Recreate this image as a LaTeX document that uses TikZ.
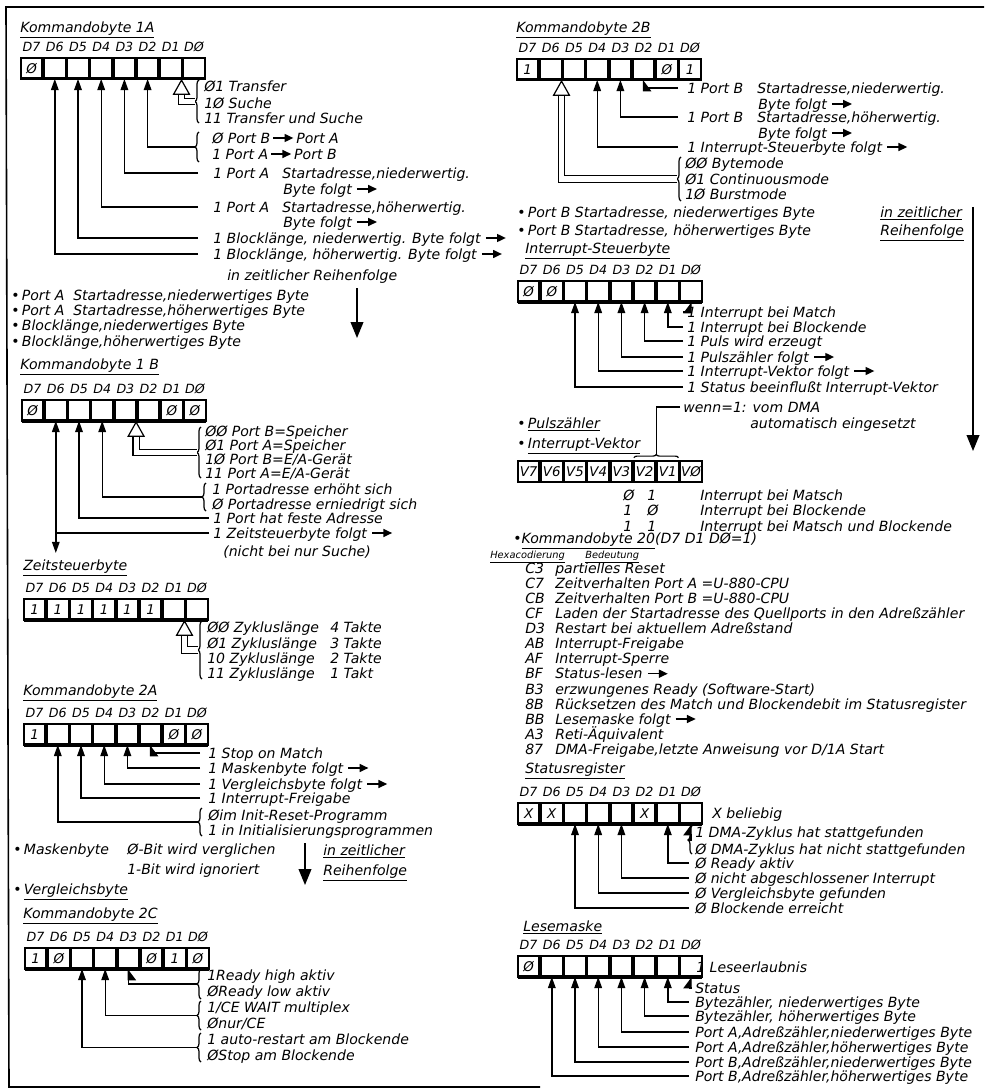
\documentclass[tikz,border=0pt]{standalone}
\usepackage{fontspec}
\setmainfont{DejaVu Sans}
\usetikzlibrary{matrix,arrows.meta,decorations.pathreplacing}

\newcommand{\folgt}{\tikz[baseline=-1.3mm]\draw[line width=0.35mm,-{Triangle[length=2.2mm,width=2mm]}] (0,0) -- (5mm,0);}

\tikzset{
    txt/.style={anchor=west, inner sep=0pt, text height=2.6mm, text depth=0pt},
    klein/.style={txt, font=\fontsize{7}{8}\selectfont\itshape},
    reg/.style={matrix of nodes, nodes in empty cells, anchor=north west,
        inner sep=0pt, outer sep=0pt, column sep=0pt, row sep=0pt,
        nodes={anchor=center, inner sep=0pt, outer sep=0pt,
            minimum width=5.35mm, minimum height=5.25mm,
            font=\fontsize{9.5}{10}\selectfont\itshape},
        row 1/.style={nodes={font=\fontsize{9}{10}\selectfont\itshape}},
        row 2/.style={nodes={draw, line width=0.45mm}}},
    vreg/.style={reg, row 1/.style={nodes={draw, line width=0.45mm}}},
    boden/.style={line width=0.8mm},
    zeig/.style={line width=0.35mm, -{Stealth[inset=0pt, length=2.8mm, width=1.9mm]}},
    halb/.style={line width=0.35mm, -{Stealth[inset=0pt, length=2.6mm, width=3.8mm, harpoon, swap]}},
    halbl/.style={line width=0.35mm, -{Stealth[inset=0pt, length=2.6mm, width=3.8mm, harpoon]}},
    hohl/.style={double, double distance=1.3mm, line width=0.3mm,
        -{Triangle[open, length=4mm, width=4.4mm, line width=0.3mm]}},
    klammer/.style={decorate, decoration={brace, amplitude=1mm}, line width=0.3mm},
    lang/.style={line width=0.35mm, -{Triangle[length=4mm, width=3.2mm]}},
    linie/.style={line width=0.35mm}
}

\begin{document}
\begin{tikzpicture}[x=0.25mm, y=-0.25mm, font=\fontsize{10}{12}\selectfont\itshape]
\useasboundingbox (0,0) rectangle (984,1091);
\draw[line width=0.4mm] (984,7) -- (6,7) -- (9,1087) -- (540,1087);

% Kommandobyte 1A
\node[txt] (t1a) at (20,27) {\underline{Kommandobyte 1A}};
\matrix (k1a) [reg] at (20,36) {
    D7 & D6 & D5 & D4 & D3 & D2 & D1 & DØ \\
    Ø  &    &    &    &    &    &    &    \\
};
\draw[boden] (k1a-2-1.south west) -- (k1a-2-8.south east);
\draw[klammer] (199,123) -- node[coordinate, left=1mm] (s1a) {} (199,80);
\node[txt] (a1) at (204,86) {Ø1 Transfer};
\node[txt] (a2) at (204,103) {1Ø Suche};
\node[txt] (a3) at (204,118) {11 Transfer und Suche};
\draw[hohl] (s1a) -| (k1a-2-7.south east);
\draw[klammer] (199,162) -- node[coordinate, left=1mm] (r1a) {} (199,132);
\node[txt] (a4) at (212,138) {Ø Port B\,\folgt\,Port A};
\node[txt] (a5) at (212,154) {1 Port A\,\folgt\,Port B};
\draw[zeig] (r1a) -| (k1a-2-6.south);
\node[txt] (a6) at (213,173) {1 Port A};
\node[txt] (a7) at (282,173) {Startadresse,niederwertig.};
\node[txt] (a8) at (283,189) {Byte folgt \folgt};
\draw[zeig] (a6.west) ++(-15,0) -| (k1a-2-5.south);
\node[txt] (a9) at (213,207) {1 Port A};
\node[txt] (a10) at (282,207) {Startadresse,höherwertig.};
\node[txt] (a11) at (283,222) {Byte folgt \folgt};
\draw[zeig] (a9.west) ++(-15,0) -| (k1a-2-4.south);
\node[txt] (a12) at (213,238) {1 Blocklänge, niederwertig. Byte folgt \folgt};
\draw[zeig] (a12.west) ++(-15,0) -| (k1a-2-3.south);
\node[txt] (a13) at (213,254) {1 Blocklänge, höherwertig. Byte folgt \folgt};
\draw[zeig] (a13.west) ++(-15,0) -| (k1a-2-2.south);
\node[txt] (a14) at (227,275) {in zeitlicher Reihenfolge};
\node[txt] (a15) at (11,295) {•\,Port A~ Startadresse,niederwertiges Byte};
\node[txt] (a16) at (11,310) {•\,Port A~ Startadresse,höherwertiges Byte};
\node[txt] (a17) at (11,325) {•\,Blocklänge,niederwertiges Byte};
\node[txt] (a18) at (11,341) {•\,Blocklänge,höherwertiges Byte};
\coordinate (p1o) at (357,288);
\coordinate (p1u) at (357,338);
\draw[lang] (p1o) -- (p1u);

% Kommandobyte 1B
\node[txt] (t1b) at (20,364) {\underline{Kommandobyte 1 B}};
\matrix (k1b) [reg] at (21,378) {
    D7 & D6 & D5 & D4 & D3 & D2 & D1 & DØ \\
    Ø  &    &    &    &    &    & Ø  & Ø  \\
};
\draw[boden] (k1b-2-1.south west) -- (k1b-2-8.south east);
\draw[klammer] (201,478) -- node[coordinate, left=1mm] (s1b) {} (201,427);
\node[txt] (b1) at (205,431) {ØØ Port B=Speicher};
\node[txt] (b2) at (205,445) {Ø1 Port A=Speicher};
\node[txt] (b3) at (205,459) {1Ø Port B=E/A-Gerät};
\node[txt] (b4) at (205,473) {11 Port A=E/A-Gerät};
\draw[hohl] (s1b) -| (k1b-2-5.south east);
\draw[klammer] (206,511) -- node[coordinate, left=1mm] (r1b) {} (206,483);
\node[txt] (b5) at (212,489) {1 Portadresse erhöht sich};
\node[txt] (b6) at (212,504) {Ø Portadresse erniedrigt sich};
\draw[zeig] (r1b) -| (k1b-2-4.south);
\node[txt] (b7) at (213,518) {1 Port hat feste Adresse};
\draw[zeig] (b7.west) ++(-4,0) -| (k1b-2-3.south);
\node[txt] (b8) at (213,533) {1 Zeitsteuerbyte folgt \folgt};
\draw[zeig] (b8.west) ++(-4,0) -| (k1b-2-2.south);
\draw[zeig] (k1b-2-2.south |- b8.west) -- ++(0,20);
\node[txt] (b9) at (223,551) {(nicht bei nur Suche)};

% Zeitsteuerbyte
\node[txt] (tz) at (23,565) {\underline{Zeitsteuerbyte}};
\matrix (kz) [reg] at (23,577) {
    D7 & D6 & D5 & D4 & D3 & D2 & D1 & DØ \\
    1  & 1  & 1  & 1  & 1  & 1  &    &    \\
};
\draw[boden] (kz-2-1.south west) -- (kz-2-8.south east);
\draw[klammer] (202,679) -- node[coordinate, left=1mm] (sz) {} (202,621);
\node[txt] (z1) at (207,627) {ØØ Zykluslänge};
\node[txt] (z2) at (330,627) {4 Takte};
\node[txt] (z3) at (207,643) {Ø1 Zykluslänge};
\node[txt] (z4) at (330,643) {3 Takte};
\node[txt] (z5) at (207,658) {10 Zykluslänge};
\node[txt] (z6) at (330,658) {2 Takte};
\node[txt] (z7) at (207,673) {11 Zykluslänge};
\node[txt] (z8) at (330,673) {1 Takt};
\draw[hohl] (sz) -| (kz-2-7.south east);

% Kommandobyte 2A
\node[txt] (t2a) at (23,690) {\underline{Kommandobyte 2A}};
\matrix (k2a) [reg] at (23,702) {
    D7 & D6 & D5 & D4 & D3 & D2 & D1 & DØ \\
    1  &    &    &    &    &    & Ø  & Ø  \\
};
\draw[boden] (k2a-2-1.south west) -- (k2a-2-8.south east);
\node[txt] (c1) at (208,753) {1 Stop on Match};
\draw[halb] (c1.west) ++(-8,0) -| (k2a-2-6.south);
\node[txt] (c2) at (208,768) {1 Maskenbyte folgt \folgt};
\draw[zeig] (c2.west) ++(-8,0) -| (k2a-2-5.south);
\node[txt] (c3) at (208,784) {1 Vergleichsbyte folgt \folgt};
\draw[zeig] (c3.west) ++(-8,0) -| (k2a-2-4.south);
\node[txt] (c4) at (208,798) {1 Interrupt-Freigabe};
\draw[zeig] (c4.west) ++(-8,0) -| (k2a-2-3.south);
\draw[klammer] (202,836) -- node[coordinate, left=1mm] (s2a) {} (202,808);
\node[txt] (c5) at (208,815) {Øim Init-Reset-Programm};
\node[txt] (c6) at (208,830) {1 in Initialisierungsprogrammen};
\draw[zeig] (s2a) -| (k2a-2-2.south);
\node[txt] (c7) at (13,849) {•\,Maskenbyte};
\node[txt] (c8) at (127,849) {Ø-Bit wird verglichen};
\node[txt] (c9) at (127,869) {1-Bit wird ignoriert};
\coordinate (p2o) at (305,843);
\coordinate (p2u) at (305,885);
\draw[lang] (p2o) -- (p2u);
\node[txt] (c10) at (323,850) {\underline{in zeitlicher}};
\node[txt] (c11) at (323,870) {\underline{Reihenfolge}};
\node[txt] (c12) at (13,889) {•\,\underline{Vergleichsbyte}};

% Kommandobyte 2C
\node[txt] (t2c) at (23,913) {\underline{Kommandobyte 2C}};
\matrix (k2c) [reg] at (24,926) {
    D7 & D6 & D5 & D4 & D3 & D2 & D1 & DØ \\
    1  & Ø  &    &    &    & Ø  & 1  & Ø  \\
};
\draw[boden] (k2c-2-1.south west) -- (k2c-2-8.south east);
\draw[klammer] (201,999) -- node[coordinate, left=1mm] (s2c1) {} (201,969);
\node[txt] (d1) at (207,975) {1Ready high aktiv};
\node[txt] (d2) at (207,991) {ØReady low aktiv};
\draw[halb] (s2c1) -| (k2c-2-5.south);
\draw[klammer] (201,1030) -- node[coordinate, left=1mm] (s2c2) {} (201,1001);
\node[txt] (d3) at (207,1007) {1/CE WAIT multiplex};
\node[txt] (d4) at (207,1023) {Ønur/CE};
\draw[zeig] (s2c2) -| (k2c-2-4.south);
\draw[klammer] (201,1062) -- node[coordinate, left=1mm] (s2c3) {} (201,1033);
\node[txt] (d5) at (207,1039) {1 auto-restart am Blockende};
\node[txt] (d6) at (207,1055) {ØStop am Blockende};
\draw[zeig] (s2c3) -| (k2c-2-3.south);

% Kommandobyte 2B
\node[txt] (t2b) at (516,27) {\underline{Kommandobyte 2B}};
\matrix (k2b) [reg] at (516,37) {
    D7 & D6 & D5 & D4 & D3 & D2 & D1 & DØ \\
    1  &    &    &    &    &    & Ø  & 1  \\
};
\draw[boden] (k2b-2-1.south west) -- (k2b-2-8.south east);
\node[txt] (e1) at (687,88) {1 Port B};
\node[txt] (e2) at (757,88) {Startadresse,niederwertig.};
\node[txt] (e3) at (758,104) {Byte folgt \folgt};
\draw[halb] (e1.west) ++(-9,0) -| (k2b-2-6.south);
\node[txt] (e4) at (687,117) {1 Port B};
\node[txt] (e5) at (757,117) {Startadresse,höherwertig.};
\node[txt] (e6) at (758,133) {Byte folgt \folgt};
\draw[zeig] (e4.west) ++(-9,0) -| (k2b-2-5.south);
\node[txt] (e7) at (687,147) {1 Interrupt-Steuerbyte folgt \folgt};
\draw[zeig] (e7.west) ++(-9,0) -| (k2b-2-4.south);
\draw[klammer] (681,201) -- node[coordinate, left=1mm] (s2b) {} (681,157);
\node[txt] (e8) at (685,163) {ØØ Bytemode};
\node[txt] (e9) at (685,179) {Ø1 Continuousmode};
\node[txt] (e10) at (685,194) {1Ø Burstmode};
\draw[hohl] (s2b) -| (k2b-2-2.south east);
\node[txt] (e11) at (517,212) {•\,Port B Startadresse, niederwertiges Byte};
\node[txt] (e12) at (517,230) {•\,Port B Startadresse, höherwertiges Byte};
\node[txt] (e13) at (880,212) {\underline{in zeitlicher}};
\node[txt] (e14) at (880,230) {\underline{Reihenfolge}};
\coordinate (p3o) at (973,207);
\coordinate (p3u) at (973,451);
\draw[lang] (p3o) -- (p3u);

% Interrupt-Steuerbyte
\node[txt] (ti) at (525,248) {\underline{Interrupt-Steuerbyte}};
\matrix (ki) [reg] at (517,259) {
    D7 & D6 & D5 & D4 & D3 & D2 & D1 & DØ \\
    Ø  & Ø  &    &    &    &    &    &    \\
};
\draw[boden] (ki-2-1.south west) -- (ki-2-8.south east);
\node[txt] (f1) at (687,312) {1 Interrupt bei Match};
\draw[halbl] (f1.west) ++(-4,0) -| (ki-2-8.south);
\node[txt] (f2) at (687,327) {1 Interrupt bei Blockende};
\draw[zeig] (f2.west) ++(-4,0) -| (ki-2-7.south);
\node[txt] (f3) at (687,341) {1 Puls wird erzeugt};
\draw[zeig] (f3.west) ++(-4,0) -| (ki-2-6.south);
\node[txt] (f4) at (687,357) {1 Pulszähler folgt \folgt};
\draw[zeig] (f4.west) ++(-4,0) -| (ki-2-5.south);
\node[txt] (f5) at (687,371) {1 Interrupt-Vektor folgt \folgt};
\draw[zeig] (f5.west) ++(-4,0) -| (ki-2-4.south);
\node[txt] (f6) at (687,387) {1 Status beeinflußt Interrupt-Vektor};
\draw[zeig] (f6.west) ++(-4,0) -| (ki-2-3.south);

% Interrupt-Vektor
\node[txt] (f7) at (517,423) {•\,\underline{Pulszähler}};
\node[txt] (f8) at (517,443) {•\,\underline{Interrupt-Vektor}};
\matrix (kv) [vreg] at (517,460) {
    V7 & V6 & V5 & V4 & V3 & V2 & V1 & VØ \\
};
\draw[klammer, decoration={amplitude=0.8mm}] ([yshift=0.8mm]kv-1-6.north west)
    -- node[coordinate, above=0.8mm] (sv) {} ([yshift=0.8mm]kv-1-7.north east);
\node[txt] (f9) at (683,407) {wenn=1: vom DMA};
\node[txt] (f10) at (750,423) {automatisch eingesetzt};
\draw[linie] (f9.west) ++(-3,0) -| (sv);
\node[txt] (g1) at (623,495) {Ø};
\node[txt] (g2) at (647,495) {1};
\node[txt] (g3) at (700,495) {Interrupt bei Matsch};
\node[txt] (g4) at (623,510) {1};
\node[txt] (g5) at (647,510) {Ø};
\node[txt] (g6) at (700,510) {Interrupt bei Blockende};
\node[txt] (g7) at (623,526) {1};
\node[txt] (g8) at (647,526) {1};
\node[txt] (g9) at (700,526) {Interrupt bei Matsch und Blockende};

% Kommandobyte 20
\node[txt] (h0) at (513,538) {•\underline{Kommandobyte 20}(D7 D1 DØ=1)};
\node[klein] (h1) at (490,553) {\underline{Hexacodierung}};
\node[klein] (h2) at (585,553) {\underline{Bedeutung}};
\foreach \c/\t [count=\i from 0] in {C3/partielles Reset,
    C7/Zeitverhalten Port A =U-880-CPU,
    CB/Zeitverhalten Port B =U-880-CPU,
    CF/Laden der Startadresse des Quellports in den Adreßzähler,
    D3/Restart bei aktuellem Adreßstand,
    AB/Interrupt-Freigabe,
    AF/Interrupt-Sperre,
    BF/Status-lesen \folgt,
    B3/erzwungenes Ready (Software-Start),
    8B/Rücksetzen des Match und Blockendebit im Statusregister,
    BB/Lesemaske folgt \folgt,
    A3/Reti-Äquivalent,
    87/{DMA-Freigabe,letzte Anweisung vor D/1A Start}}
{
    \node[txt] (hx\i) at (525,{568+15.1*\i}) {\c};
    \node[txt] (hb\i) at (555,{568+15.1*\i}) {\t};
}

% Statusregister
\node[txt] (ts) at (525,768) {\underline{Statusregister}};
\matrix (ks) [reg] at (517,781) {
    D7 & D6 & D5 & D4 & D3 & D2 & D1 & DØ \\
    X  & X  &    &    &    & X  &    &    \\
};
\draw[boden] (ks-2-1.south west) -- (ks-2-8.south east);
\node[txt] (m0) at (712,813) {X beliebig};
\draw[klammer] (692,854) -- node[coordinate, left=1mm] (ss) {} (692,826);
\node[txt] (m1) at (695,832) {1 DMA-Zyklus hat stattgefunden};
\node[txt] (m2) at (695,849) {Ø DMA-Zyklus hat nicht stattgefunden};
\draw[halbl] (ss) -| (ks-2-8.south);
\node[txt] (m3) at (695,863) {Ø Ready aktiv};
\draw[zeig] (m3.west) ++(-6,0) -| (ks-2-7.south);
\node[txt] (m4) at (695,878) {Ø nicht abgeschlossener Interrupt};
\draw[zeig] (m4.west) ++(-6,0) -| (ks-2-5.south);
\node[txt] (m5) at (695,893) {Ø Vergleichsbyte gefunden};
\draw[zeig] (m5.west) ++(-6,0) -| (ks-2-4.south);
\node[txt] (m6) at (695,908) {Ø Blockende erreicht};
\draw[zeig] (m6.west) ++(-6,0) -| (ks-2-3.south);

% Lesemaske
\node[txt] (tl) at (523,926) {\underline{Lesemaske}};
\matrix (kl) [reg] at (517,934) {
    D7 & D6 & D5 & D4 & D3 & D2 & D1 & DØ \\
    Ø  &    &    &    &    &    &    &    \\
};
\draw[boden] (kl-2-1.south west) -- (kl-2-8.south east);
\node[txt] (n0) at (696,967) {1 Leseerlaubnis};
\node[txt] (n1) at (695,988) {Status};
\draw[halbl] (n1.west) ++(-6,0) -| (kl-2-8.south);
\node[txt] (n2) at (695,1002) {Bytezähler, niederwertiges Byte};
\draw[zeig] (n2.west) ++(-6,0) -| (kl-2-7.south);
\node[txt] (n3) at (695,1016) {Bytezähler, höherwertiges Byte};
\draw[zeig] (n3.west) ++(-6,0) -| (kl-2-6.south);
\node[txt] (n4) at (695,1032) {Port A,Adreßzähler,niederwertiges Byte};
\draw[zeig] (n4.west) ++(-6,0) -| (kl-2-5.south);
\node[txt] (n5) at (695,1047) {Port A,Adreßzähler,höherwertiges Byte};
\draw[zeig] (n5.west) ++(-6,0) -| (kl-2-4.south);
\node[txt] (n6) at (695,1062) {Port B,Adreßzähler,niederwertiges Byte};
\draw[zeig] (n6.west) ++(-6,0) -| (kl-2-3.south);
\node[txt] (n7) at (695,1076) {Port B,Adreßzähler,höherwertiges Byte};
\draw[zeig] (n7.west) ++(-6,0) -| (kl-2-2.south);
\end{tikzpicture}
\end{document}
